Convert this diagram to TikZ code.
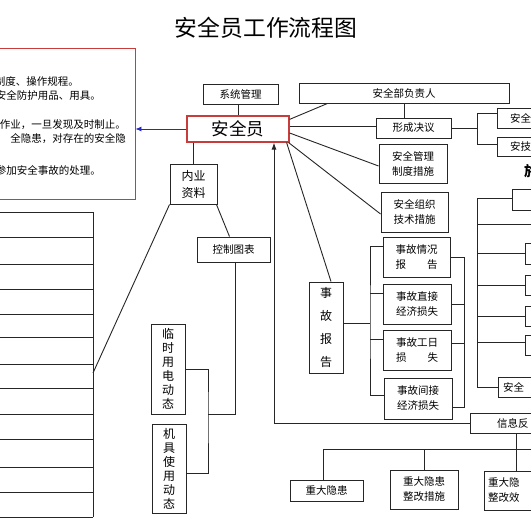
\documentclass[tikz,border=0pt]{standalone}
\usepackage{fontspec}
\newfontfamily\cjk{Noto Sans CJK SC}
\usetikzlibrary{arrows.meta,calc}
\definecolor{boxred}{RGB}{200,60,60}
\definecolor{arrblue}{RGB}{40,40,200}
\begin{document}
\begin{tikzpicture}[x=1pt,y=-1pt,
  bx/.style={draw=black!85, line width=0.9pt, inner sep=0pt, font=\cjk\fontsize{10.5}{15}\selectfont, align=center},
  vt/.style={bx, font=\cjk\fontsize{12}{14}\selectfont},
  ln/.style={draw=black!85, line width=0.9pt},
  note/.style={font=\cjk\fontsize{10.5}{12}\selectfont, inner sep=0pt, anchor=east},
]
\useasboundingbox (0,0) rectangle (531,529);
\fill[white] (0,0) rectangle (531,529);

% title
\node[font=\cjk\fontsize{22.8}{23}\selectfont] (title) at (266,28) {安全员工作流程图};

% red note box
\node[draw=boxred, line width=0.9pt, minimum width=145, minimum height=151, inner sep=0pt] (notes) at (62.5,123.5) {};
\node[note] (n1) at (79,81) {制度、操作规程。};
\node[note] (n2) at (101,95) {安全防护用品、用具。};
\node[note] (n3) at (126,125) {作业，一旦发现及时制止。};
\node[note] (n4) at (126,139) {全隐患，对存在的安全隐};
\node[note] (n5) at (101,170) {参加安全事故的处理。};

% central
\node[draw=boxred, line width=1.2pt, minimum width=102, minimum height=26, inner sep=0pt, font=\cjk\fontsize{17.5}{18}\selectfont] (aqy) at (238,129) {安全员};
\node[bx, minimum width=75, minimum height=20] (xtgl) at (240.5,94) {系统管理};
\node[bx, minimum width=210, minimum height=20] (fzr) at (404,93) {安全部负责人};
\node[bx, minimum width=75, minimum height=20] (jy) at (413.5,128) {形成决议};
\node[bx, text width=50, inner xsep=13, align=left, minimum height=20] (r1) at (535,118) {安全};
\node[bx, text width=50, inner xsep=13, align=left, minimum height=19] (r2) at (535,146.5) {安技};
\node[font=\cjk\bfseries\fontsize{14}{14}\selectfont, anchor=west, inner sep=0pt] (hd) at (524,171) {施};

\node[bx, minimum width=68, minimum height=39] (gl) at (413,163.5) {安全管理\\制度措施};
\node[bx, minimum width=67, minimum height=40] (zz) at (414.5,212) {安全组织\\技术措施};
\node[bx, minimum width=34, minimum height=91, font=\cjk\fontsize{12}{23}\selectfont] (bg) at (326,327.5) {事\\故\\报\\告};
\node[bx, minimum width=67, minimum height=40] (s1) at (416.5,257) {事故情况\\报\quad\quad 告};
\node[bx, minimum width=68, minimum height=40] (s2) at (417,304) {事故直接\\经济损失};
\node[bx, minimum width=68, minimum height=40] (s3) at (417,350) {事故工日\\损\quad\quad 失};
\node[bx, minimum width=68, minimum height=41] (s4) at (418,398.5) {事故间接\\经济损失};

% right group
\node[bx, minimum width=48, minimum height=21] (rb1) at (536,199.5) {};
\node[bx, minimum width=40, minimum height=21] (rb2) at (545,253.5) {};
\node[bx, minimum width=40, minimum height=20] (rb3) at (545,285) {};
\node[bx, minimum width=40, minimum height=20] (rb4) at (545,316) {};
\node[bx, minimum width=40, minimum height=20] (rb5) at (545,345) {};
\node[bx, text width=40, inner xsep=5, align=left, minimum height=20] (rb6) at (523,387) {安全};

% feedback
\node[bx, text width=60, inner xsep=27, align=left, minimum height=20] (fk) at (527,423) {信息反};
\node[bx, minimum width=73, minimum height=21] (zd1) at (326.5,490.5) {重大隐患};
\node[bx, minimum width=68, minimum height=39] (zd2) at (424,489.5) {重大隐患\\整改措施};
\node[bx, text width=70, inner xsep=4, align=left, minimum height=39] (zd3) at (523,490.5) {重大隐\\整改效};

% left side
\node[bx, minimum width=47, minimum height=40, font=\cjk\fontsize{12}{17}\selectfont] (nyzl) at (193.5,184) {内业\\资料};
\node[bx, minimum width=73, minimum height=25] (kztb) at (233.5,249.5) {控制图表};
\node[vt, minimum width=34, minimum height=90] (lsyd) at (168,369) {临\\时\\用\\电\\动\\态};
\node[vt, minimum width=34, minimum height=89] (jjsy) at (169,468.5) {机\\具\\使\\用\\动\\态};

% left list
\foreach \yy in {212,237,264,289,314,337,364,388,414,439,467,492,517}
  \draw[ln] (-5,\yy) -- (93,\yy);
\draw[ln] (93,212) -- (93,517);
\coordinate (lv) at (93,373);

% connectors
\draw[draw=arrblue, line width=0.8pt, -{Latex[length=6pt,width=5pt]}] (aqy.west) -- (notes.east |- aqy.west);
\draw[ln] (xtgl.south -| aqy.north) -- (aqy.north);
\draw[ln] ([xshift=29]fzr.south west) -- ([yshift=-4]aqy.north east);
\draw[ln] (fzr.south) -- (fzr.south |- jy.north);
\draw[ln] ([yshift=3]aqy.east) -- ([yshift=3]aqy.east -| jy.west);
\coordinate (jb) at ($(jy.east)+(26,0)$);
\draw[ln] (jy.east) -- (jb);
\draw[ln] ([yshift=5]r1.west) -| (jb) |- ([yshift=2.5]r2.west);
\draw[ln] ([yshift=-4]aqy.east) -- ([yshift=-2.5]gl.west);
\draw[ln] ([xshift=-1]aqy.south east) -- ([yshift=-2]zz.west);
\draw[ln] ([xshift=-3]aqy.south east) -- ([xshift=5]bg.north);
\draw[ln] (nyzl.north) -- (nyzl.north |- aqy.south);
\draw[ln] (nyzl.south west) -- (lv);
\draw[ln] ([xshift=-1]nyzl.south east) -- ([xshift=-4]kztb.north);
\coordinate (kb) at (208,414);
\draw[ln] ([xshift=1.5]kztb.south) |- (kb);
\draw[ln] (lsyd.east) -| (kb) |- ([yshift=-5]jjsy.east);
\draw[ln, -{Latex[length=7pt,width=5pt]}] (fk.west) -| ([xshift=36]aqy.south);

% accident bracket
\coordinate (sb) at (370,323);
\draw[ln] ([yshift=4.5]bg.east) -- (sb);
\draw[ln] ([yshift=11]s1.west) -| (sb) |- ([yshift=3.5]s4.west);
\draw[ln] ([yshift=11]s2.west) -- ([yshift=11]s2.west -| sb);
\draw[ln] ([yshift=11]s3.west) -- ([yshift=11]s3.west -| sb);
\coordinate (sr) at (464,407);
\draw[ln] (s1.east) -| (sr) -- ([yshift=-8.5]s4.east);
\draw[ln] (s2.east) -- (s2.east -| sr);
\draw[ln] ([yshift=7]s3.east) -- ([yshift=7]s3.east -| sr);

% right group bracket
\coordinate (rg) at (477,198);
\draw[ln] ([yshift=1.5]rb1.west) -| (rg) |- (rb6.west);
\coordinate (re) at (535,224);
\draw[ln] (re) -- (re -| rg);
\draw[ln] (rb2.west) -- (rb2.west -| rg);
\draw[ln] (rb3.west) -- (rb3.west -| rg);
\draw[ln] (rb4.west) -- (rb4.west -| rg);
\draw[ln] ([yshift=3]rb5.west) -- ([yshift=3]rb5.west -| rg);

% feedback branches
\coordinate (fkd) at ([xshift=-11]fk.south);
\draw[ln] (fkd) -- (fkd |- zd3.north);
\coordinate (hb) at (535,449);
\draw[ln] ([xshift=-3.5]zd1.north) |- (hb);
\draw[ln] (zd2.north) -- (zd2.north |- hb);
\end{tikzpicture}
\end{document}
